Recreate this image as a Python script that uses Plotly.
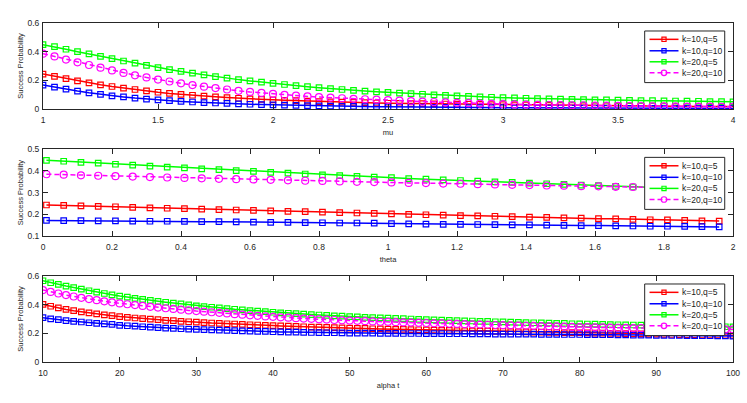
import numpy as np
import plotly.graph_objects as go

# x grids
mu = np.linspace(1, 4, 61)
theta = np.linspace(0.01, 1.96, 40)
alpha_t = np.arange(10, 101)

# success probability vs mu
red_mu = [0.244, 0.228, 0.212, 0.196, 0.182, 0.169, 0.157, 0.146, 0.136, 0.126,
          0.117, 0.109, 0.102, 0.096, 0.090, 0.085, 0.080, 0.075, 0.071, 0.067,
          0.064, 0.061, 0.058, 0.055, 0.052, 0.050, 0.048, 0.046, 0.044, 0.042,
          0.040, 0.039, 0.038, 0.037, 0.036, 0.035, 0.034, 0.033, 0.032, 0.031,
          0.030, 0.029, 0.028, 0.027, 0.026, 0.025, 0.025, 0.024, 0.023, 0.023,
          0.022, 0.021, 0.021, 0.020, 0.020, 0.019, 0.019, 0.018, 0.018, 0.017, 0.017]
blue_mu = [0.167, 0.152, 0.138, 0.125, 0.113, 0.102, 0.092, 0.084, 0.076, 0.069,
           0.063, 0.058, 0.053, 0.049, 0.045, 0.042, 0.039, 0.036, 0.033, 0.031,
           0.029, 0.027, 0.025, 0.023, 0.022, 0.020, 0.019, 0.018, 0.017, 0.016,
           0.015, 0.014, 0.013, 0.013, 0.012, 0.011, 0.011, 0.010, 0.010, 0.009,
           0.009, 0.008, 0.008, 0.008, 0.007, 0.007, 0.007, 0.006, 0.006, 0.006,
           0.006, 0.005, 0.005, 0.005, 0.005, 0.005, 0.004, 0.004, 0.004, 0.004, 0.004]
green_mu = [0.449, 0.435, 0.417, 0.400, 0.384, 0.367, 0.351, 0.335, 0.320, 0.305,
            0.289, 0.275, 0.262, 0.250, 0.238, 0.226, 0.215, 0.205, 0.196, 0.187,
            0.179, 0.171, 0.163, 0.156, 0.149, 0.142, 0.136, 0.130, 0.125, 0.120,
            0.116, 0.111, 0.107, 0.103, 0.099, 0.095, 0.092, 0.088, 0.085, 0.082,
            0.079, 0.077, 0.075, 0.073, 0.071, 0.069, 0.067, 0.066, 0.064, 0.063,
            0.062, 0.060, 0.059, 0.058, 0.057, 0.056, 0.055, 0.054, 0.052, 0.051, 0.050]
magenta_mu = [0.386, 0.367, 0.345, 0.326, 0.307, 0.288, 0.269, 0.252, 0.235, 0.220,
              0.205, 0.192, 0.179, 0.167, 0.156, 0.146, 0.136, 0.127, 0.119, 0.112,
              0.105, 0.099, 0.093, 0.088, 0.083, 0.079, 0.075, 0.071, 0.068, 0.065,
              0.062, 0.058, 0.055, 0.052, 0.049, 0.046, 0.043, 0.041, 0.038, 0.036,
              0.034, 0.032, 0.031, 0.029, 0.028, 0.027, 0.026, 0.025, 0.024, 0.023,
              0.022, 0.021, 0.020, 0.019, 0.018, 0.018, 0.017, 0.016, 0.016, 0.015, 0.015]

# success probability vs theta
red_theta = [0.243, 0.241, 0.239, 0.237, 0.235, 0.232, 0.230, 0.228, 0.226, 0.224,
             0.222, 0.220, 0.218, 0.216, 0.214, 0.212, 0.210, 0.208, 0.206, 0.204,
             0.202, 0.200, 0.198, 0.196, 0.194, 0.193, 0.191, 0.189, 0.187, 0.186,
             0.184, 0.182, 0.180, 0.179, 0.177, 0.175, 0.174, 0.172, 0.170, 0.169]
blue_theta = [0.172, 0.171, 0.171, 0.170, 0.170, 0.169, 0.168, 0.168, 0.167, 0.166,
              0.166, 0.165, 0.164, 0.163, 0.163, 0.162, 0.161, 0.160, 0.160, 0.159,
              0.157, 0.156, 0.155, 0.154, 0.154, 0.153, 0.152, 0.151, 0.151, 0.150,
              0.149, 0.148, 0.148, 0.147, 0.146, 0.145, 0.145, 0.144, 0.143, 0.142]
green_theta = [0.449, 0.445, 0.440, 0.436, 0.431, 0.427, 0.422, 0.418, 0.414, 0.410,
               0.406, 0.402, 0.398, 0.394, 0.390, 0.386, 0.382, 0.379, 0.375, 0.372,
               0.369, 0.365, 0.362, 0.359, 0.356, 0.353, 0.350, 0.347, 0.344, 0.341,
               0.338, 0.335, 0.332, 0.329, 0.326, 0.323, 0.321, 0.318, 0.316, 0.313]
magenta_theta = [0.385, 0.383, 0.380, 0.378, 0.376, 0.374, 0.372, 0.370, 0.368, 0.366,
                 0.364, 0.362, 0.361, 0.359, 0.357, 0.355, 0.354, 0.352, 0.350, 0.349,
                 0.347, 0.345, 0.344, 0.342, 0.341, 0.339, 0.338, 0.336, 0.335, 0.333,
                 0.332, 0.330, 0.329, 0.327, 0.326, 0.325, 0.323, 0.322, 0.321, 0.319]

# success probability vs alpha t
red_alpha = [0.402, 0.389, 0.378, 0.367, 0.358, 0.350, 0.343, 0.336, 0.329, 0.323,
             0.317, 0.312, 0.307, 0.303, 0.299, 0.295, 0.291, 0.288, 0.284, 0.281,
             0.278, 0.275, 0.272, 0.270, 0.267, 0.265, 0.262, 0.260, 0.258, 0.256,
             0.254, 0.252, 0.250, 0.248, 0.246, 0.244, 0.243, 0.241, 0.240, 0.238,
             0.237, 0.235, 0.234, 0.232, 0.231, 0.230, 0.228, 0.227, 0.226, 0.225,
             0.224, 0.222, 0.221, 0.220, 0.219, 0.218, 0.217, 0.216, 0.215, 0.214,
             0.213, 0.212, 0.211, 0.210, 0.209, 0.208, 0.207, 0.206, 0.205, 0.205,
             0.204, 0.203, 0.202, 0.201, 0.200, 0.199, 0.198, 0.197, 0.196, 0.195,
             0.194, 0.193, 0.192, 0.191, 0.190, 0.189, 0.188, 0.188, 0.187, 0.186, 0.186]
blue_alpha = [0.309, 0.301, 0.295, 0.289, 0.284, 0.279, 0.274, 0.270, 0.266, 0.262,
              0.256, 0.253, 0.250, 0.246, 0.243, 0.240, 0.237, 0.235, 0.232, 0.230,
              0.228, 0.226, 0.224, 0.222, 0.220, 0.219, 0.217, 0.216, 0.214, 0.213,
              0.211, 0.210, 0.209, 0.208, 0.207, 0.206, 0.205, 0.204, 0.204, 0.203,
              0.202, 0.202, 0.201, 0.201, 0.200, 0.200, 0.200, 0.199, 0.199, 0.199,
              0.198, 0.198, 0.198, 0.197, 0.197, 0.197, 0.196, 0.196, 0.196, 0.195,
              0.195, 0.195, 0.194, 0.194, 0.194, 0.193, 0.193, 0.193, 0.192, 0.192,
              0.192, 0.191, 0.191, 0.190, 0.190, 0.189, 0.189, 0.188, 0.188, 0.187,
              0.186, 0.186, 0.185, 0.185, 0.184, 0.184, 0.183, 0.183, 0.182, 0.182, 0.181]
green_alpha = [0.567, 0.553, 0.541, 0.530, 0.519, 0.508, 0.497, 0.487, 0.478, 0.469,
               0.460, 0.452, 0.444, 0.437, 0.430, 0.423, 0.417, 0.411, 0.405, 0.399,
               0.392, 0.387, 0.382, 0.377, 0.373, 0.368, 0.364, 0.359, 0.355, 0.351,
               0.347, 0.343, 0.340, 0.337, 0.334, 0.331, 0.328, 0.325, 0.322, 0.320,
               0.317, 0.315, 0.312, 0.310, 0.308, 0.306, 0.304, 0.302, 0.300, 0.298,
               0.296, 0.294, 0.292, 0.291, 0.289, 0.287, 0.286, 0.284, 0.283, 0.281,
               0.280, 0.278, 0.277, 0.275, 0.274, 0.273, 0.271, 0.270, 0.269, 0.267,
               0.266, 0.265, 0.264, 0.262, 0.261, 0.260, 0.259, 0.258, 0.257, 0.256,
               0.255, 0.254, 0.253, 0.252, 0.251, 0.250, 0.249, 0.248, 0.247, 0.246, 0.245]
magenta_alpha = [0.502, 0.489, 0.478, 0.467, 0.457, 0.448, 0.439, 0.431, 0.423, 0.416,
                 0.409, 0.403, 0.397, 0.391, 0.385, 0.380, 0.375, 0.370, 0.365, 0.360,
                 0.355, 0.351, 0.347, 0.343, 0.339, 0.334, 0.330, 0.326, 0.322, 0.318,
                 0.315, 0.312, 0.309, 0.306, 0.303, 0.301, 0.298, 0.296, 0.293, 0.291,
                 0.289, 0.287, 0.285, 0.283, 0.281, 0.280, 0.278, 0.276, 0.275, 0.273,
                 0.272, 0.270, 0.269, 0.267, 0.266, 0.264, 0.263, 0.261, 0.260, 0.258,
                 0.257, 0.256, 0.254, 0.253, 0.252, 0.250, 0.249, 0.248, 0.247, 0.245,
                 0.244, 0.243, 0.242, 0.241, 0.240, 0.239, 0.238, 0.237, 0.236, 0.235,
                 0.235, 0.234, 0.233, 0.232, 0.232, 0.231, 0.230, 0.230, 0.229, 0.228, 0.228]

names = ['k=10,q=5', 'k=10,q=10', 'k=20,q=5', 'k=20,q=10']
colors = ['#ff0000', '#0000ff', '#00ff00', '#ff00ff']
symbols = ['square-open', 'square-open', 'square-open', 'circle-open']
dashes = ['solid', 'solid', 'solid', '5px,3px']

panels = [
    (mu, [red_mu, blue_mu, green_mu, magenta_mu], 'mu', [1, 4], 0.5, [0, 0.6], 0.2),
    (theta, [red_theta, blue_theta, green_theta, magenta_theta], 'theta', [0, 2], 0.2, [0.1, 0.5], 0.1),
    (alpha_t, [red_alpha, blue_alpha, green_alpha, magenta_alpha], 'alpha t', [10, 100], 10, [0, 0.6], 0.2),
]
domains = [[0.7463, 1.0], [0.3717, 0.6274], [0.0, 0.2537]]

axcol = '#262626'
font = 'Liberation Sans, Arial, sans-serif'

# legend entry rows (fraction of the panel height)
leg_rows = [0.810, 0.677, 0.549, 0.421]

fig = go.Figure()
shapes = []
annotations = []

for i, (xv, ys, xlabel, xr, dx, yr, dy) in enumerate(panels):
    n = '' if i == 0 else str(i + 1)
    for name, yv, c, sym, d in zip(names, ys, colors, symbols, dashes):
        fig.add_trace(go.Scatter(
            x=xv, y=yv, name=name, mode='lines+markers',
            xaxis='x' + n, yaxis='y' + n, showlegend=False,
            line=dict(color=c, width=1.5, dash=d),
            marker=dict(symbol=sym, size=7 if sym.startswith('circle') else 5.5,
                        color=c, line=dict(color=c, width=1.2))))

    common = dict(showgrid=False, zeroline=False, showline=True, linecolor=axcol,
                  linewidth=1, mirror='ticks', ticks='inside', ticklen=5,
                  tickcolor=axcol, tickwidth=1, automargin=False,
                  tickfont=dict(family=font, size=8.5, color=axcol))
    fig.update_layout(**{
        'xaxis' + n: dict(common, range=xr, dtick=dx, anchor='y' + n, ticklabelstandoff=3,
                          title=dict(text=xlabel, font=dict(family=font, size=7.5, color=axcol), standoff=5)),
        'yaxis' + n: dict(common, range=yr, dtick=dy, anchor='x' + n, domain=domains[i],
                          ticklabelstandoff=1,
                          title=dict(text='Success Probability', font=dict(family=font, size=7.5, color=axcol),
                                     standoff=2.5)),
    })

    # legend box drawn per panel
    xref, yref = 'x' + n + ' domain', 'y' + n + ' domain'
    shapes.append(dict(type='rect', xref=xref, yref=yref, x0=0.872, x1=0.988, y0=0.307, y1=0.907,
                       fillcolor='white', line=dict(color=axcol, width=1), layer='above'))
    for j, (name, c, sym, d) in enumerate(zip(names, colors, symbols, dashes)):
        yc = leg_rows[j]
        shapes.append(dict(type='line', xref=xref, yref=yref, x0=0.879, x1=0.921, y0=yc, y1=yc,
                           line=dict(color=c, width=1.5, dash=d), layer='above'))
        if sym.startswith('circle'):
            shapes.append(dict(type='circle', xref=xref, yref=yref, x0=0.900 - 0.0040, x1=0.900 + 0.0040,
                               y0=yc - 0.032, y1=yc + 0.032,
                               line=dict(color=c, width=1.2), layer='above'))
        else:
            shapes.append(dict(type='rect', xref=xref, yref=yref, x0=0.900 - 0.0030, x1=0.900 + 0.0030,
                               y0=yc - 0.025, y1=yc + 0.025,
                               line=dict(color=c, width=1.2), layer='above'))
        annotations.append(dict(xref=xref, yref=yref, x=0.924, y=yc, text=name, showarrow=False,
                                xanchor='left', yanchor='middle', borderpad=0,
                                font=dict(family=font, size=8.5, color='#1a1a1a')))

fig.update_layout(
    width=747, height=403,
    margin=dict(l=43, r=14, t=23, b=41),
    paper_bgcolor='white', plot_bgcolor='white',
    shapes=shapes, annotations=annotations,
    showlegend=False,
)

# drop the default page margin so the figure sits at the window origin
fig.write_html("out.html", config={'displayModeBar': False},
               post_script="document.body.style.margin='0';")
